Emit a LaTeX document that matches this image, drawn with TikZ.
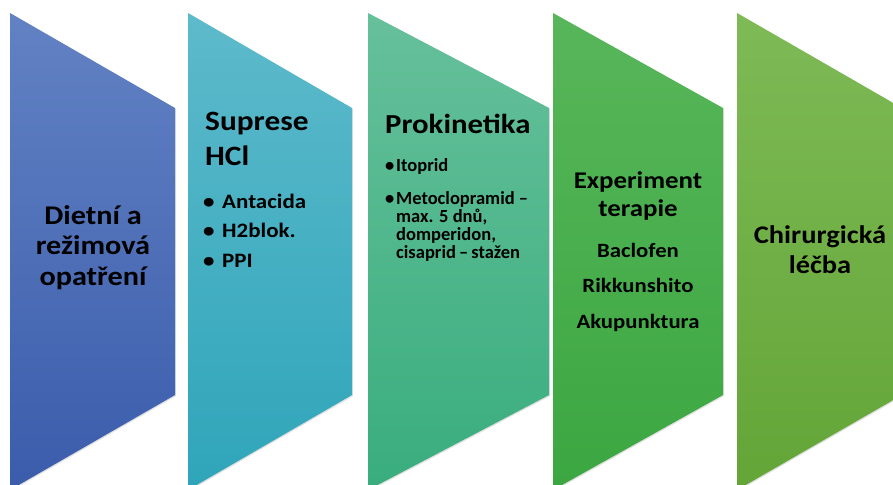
\documentclass[tikz,border=0pt]{standalone}
\usepackage{fontspec}
\setmainfont{Carlito}[FakeStretch=1.12]
\newfontfamily\listfont{Carlito}
\usetikzlibrary{shadows}

\definecolor{stageAtop}{HTML}{6382C4}
\definecolor{stageAbot}{HTML}{3A5CAB}
\definecolor{stageBtop}{HTML}{5DBACB}
\definecolor{stageBbot}{HTML}{2FA5BA}
\definecolor{stageCtop}{HTML}{66C09B}
\definecolor{stageCbot}{HTML}{39AD7E}
\definecolor{stageDtop}{HTML}{58B65A}
\definecolor{stageDbot}{HTML}{3BA741}
\definecolor{stageEtop}{HTML}{7EBA56}
\definecolor{stageEbot}{HTML}{63A537}

\newcommand{\bulletitem}[2]{\makebox[#1][l]{\textbullet}#2}

\begin{document}
\begin{tikzpicture}[x=1pt, y=-1pt,
  stage/.style={drop shadow={opacity=0.25, shadow xshift=1pt, shadow yshift=-1pt}},
  heading/.style={font=\fontsize{27.5}{30.5}\selectfont\bfseries, inner sep=0pt, anchor=base},
  biglist/.style={font=\fontsize{20.5}{29.5}\selectfont\bfseries, inner sep=0pt, anchor=base},
  smalllist/.style={font=\listfont\fontsize{18.5}{18}\selectfont\bfseries, inner sep=0pt, anchor=base west, align=left}
]
\useasboundingbox (0,0) rectangle (893,484);
\clip (0,0) rectangle (893,484);

% Stages (left to right)
\path[stage, top color=stageAtop, bottom color=stageAbot] (10,13) -- (175,108) -- (175,395) -- (10,490) -- cycle;
\path[stage, top color=stageBtop, bottom color=stageBbot] (188,13) -- (352,108) -- (352,395) -- (188,490) -- cycle;
\path[stage, top color=stageCtop, bottom color=stageCbot] (368,13) -- (549,108) -- (549,395) -- (368,490) -- cycle;
\path[stage, top color=stageDtop, bottom color=stageDbot] (553,13) -- (723,108) -- (723,395) -- (553,490) -- cycle;
\path[stage, top color=stageEtop, bottom color=stageEbot] (737,13) -- (902,108) -- (902,395) -- (737,490) -- cycle;

% Texts (anchored at the baseline of the last line)
\node[heading, font=\fontsize{27}{30.5}\selectfont\bfseries, align=center] (dietni) at (93,285) {Dietní a\\režimová\\opatření};

\node[heading, font=\fontsize{28}{30.5}\selectfont\bfseries, align=left, anchor=base west] (suprese) at (205,165) {Suprese\\[4.5pt]HCl};
\node[biglist, align=left, anchor=base west] (supList) at (203,267)
  {\bulletitem{19pt}{Antacida}\\\bulletitem{19pt}{H2blok.}\\\bulletitem{19pt}{PPI}};

\node[heading, anchor=base west] (prokin) at (385,133) {Prokinetika};
\node[smalllist] (prokList) at (385,258)
  {\bulletitem{11pt}{Itoprid}\\[15pt]\bulletitem{11pt}{Metoclopramid –}\\
   \hspace*{11pt}max. 5 dnů,\\\hspace*{11pt}domperidon,\\\hspace*{11pt}cisaprid\,–\,stažen};

\node[heading, font=\fontsize{24}{28}\selectfont\bfseries, align=center] (experiment) at (638,216) {Experiment\\terapie};
\node[biglist, font=\fontsize{20.3}{35.5}\selectfont\bfseries, align=center] (expList) at (638,328) {Baclofen\\Rikkunshito\\Akupunktura};

\node[heading, font=\fontsize{25.4}{30}\selectfont\bfseries, align=center] (chirurg) at (820,273) {Chirurgická\\léčba};

\end{tikzpicture}
\end{document}
